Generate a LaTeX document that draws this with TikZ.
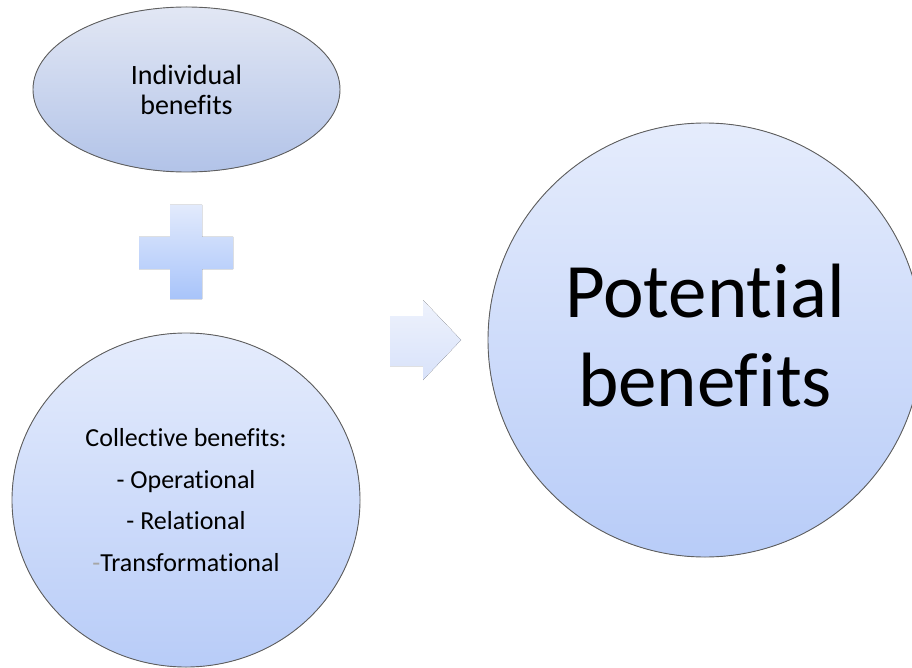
\documentclass[tikz,border=0pt]{standalone}
\usepackage{fontspec}
\setmainfont[Ligatures={NoCommon, NoContextual}]{Carlito}
\definecolor{mist}{RGB}{226, 231, 244}
\definecolor{slate}{RGB}{178, 195, 232}
\definecolor{icetop}{RGB}{229, 236, 252}
\definecolor{icebottom}{RGB}{184, 204, 248}
\definecolor{crosstop}{RGB}{226, 234, 252}
\definecolor{crossbottom}{RGB}{168, 196, 250}
\definecolor{arrowtop}{RGB}{238, 242, 252}
\definecolor{arrowbottom}{RGB}{216, 226, 250}
\definecolor{rim}{RGB}{95, 95, 95}

\begin{document}
\begin{tikzpicture}[x=1pt, y=-1pt]
            \useasboundingbox (0, 0) rectangle (912, 668);
            \filldraw[draw=rim, top color=mist,   bottom color=slate,     line width=0.9pt](186.5,  89.5) ellipse (153.5 and 82.5)
                 node[color=black, anchor=center, align=center, font=\fontsize{28}{30}\selectfont] (indiv) {Individual\\benefits};
            \fill[top color=crosstop, bottom color=crossbottom] (170, 205) -- (202, 205) -- (202, 237) -- (233, 237) -- (233, 269) -- (202, 269)
                 -- (202, 299) -- (170, 299) -- (170, 269) -- (139, 269) -- (139, 237) -- (170, 237) -- cycle;
            \filldraw[draw=rim, top color=icetop, bottom color=icebottom, line width=0.9pt](186.0, 500.0) ellipse (174.0 and 167.0)
                 node[color=black, anchor=center, align=center, font=\fontsize{26}{41.5}\selectfont] (collect)
                 {Collective benefits:\\- Operational\\- Relational\\{\color{gray!70}-}Transformational};
            \fill[top color=arrowtop, bottom color=arrowbottom] (390, 316) -- (423, 316) -- (423, 300) -- (461, 340) -- (423, 380) -- (423, 366)
                 -- (390, 366) -- cycle;
            \filldraw[draw=rim, top color=icetop, bottom color=icebottom, line width=0.9pt](705.0, 340.0) circle  (217.0)
                 node[color=black, anchor=center, align=center, yshift=4pt, font=\fontsize{77}{89}\selectfont] (potential) {Potential\\benefits};
        \end{tikzpicture}
\end{document}
